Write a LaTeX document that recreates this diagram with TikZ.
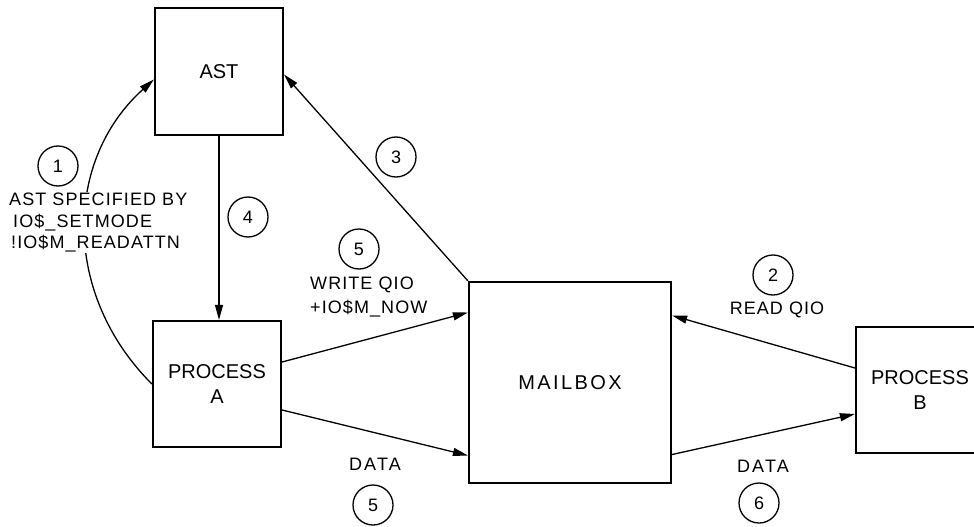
\documentclass[tikz,border=0pt]{standalone}
\usepackage{fontspec}
\setmainfont{Liberation Sans}
\usetikzlibrary{arrows.meta}
\begin{document}
\begin{tikzpicture}[x=1pt,y=-1pt,
  box/.style={draw,line width=2.2pt,minimum width=128pt,minimum height=127pt,inner sep=0pt,align=center,font=\fontsize{20}{25}\selectfont},
  num/.style={draw,circle,line width=1.3pt,minimum size=40pt,inner sep=0pt,font=\fontsize{18}{20}\selectfont},
  lbl/.style={inner sep=1pt,align=left,font=\fontsize{18}{21.5}\selectfont\addfontfeature{LetterSpace=6}},
  conn/.style={line width=1.3pt,-{Triangle[length=15pt,width=8pt]}}]
\useasboundingbox (0,0) rectangle (974,527);
\clip (0,0) rectangle (974,527);
% boxes
\node[box] (ast) at (219,71.5) {AST};
\node[box,minimum height=126pt] (pa) at (217,384) {PROCESS\\A};
\node[box,minimum width=202pt,minimum height=201pt,font=\fontsize{20}{25}\selectfont\addfontfeature{LetterSpace=12}] (mb) at (570,382.5) {MAILBOX};
\node[box,minimum height=126pt] (pb) at (920,390) {PROCESS\\B};
% connectors
\draw[conn] (pa.west) .. controls +(-90,-90) and +(-90,81) .. ([yshift=-8pt]ast.west);
\draw[conn] (ast.south) -- (ast.south |- pa.north);
\draw[conn] (mb.north west) -- ([yshift=-3pt]ast.east);
\draw[conn] ([yshift=22pt]pa.east) -- ([yshift=70pt]mb.west);
\draw[conn] ([yshift=-26pt]pa.east) -- ([yshift=-73pt]mb.west);
\draw[conn] ([yshift=22pt]pb.west) -- ([yshift=67pt]mb.east);
\draw[conn] ([yshift=-72pt]mb.east) -- ([yshift=-24pt]pb.west);
% labels
\node[lbl,fill=white,anchor=north west] (l1) at (8,192) {AST SPECIFIED BY\\\hspace*{4pt}IO\$\_SETMODE\\\hspace*{2pt}!IO\$M\_READATTN};
\node[lbl,anchor=north west,font=\fontsize{18}{24}\selectfont\addfontfeature{LetterSpace=6}] (l5) at (309,276) {WRITE QIO\\+IO\$M\_NOW};
\node[lbl,font=\fontsize{18}{21.5}\selectfont\addfontfeature{LetterSpace=12}] (d1) at (375,464) {DATA};
\node[lbl,font=\fontsize{18}{21.5}\selectfont\addfontfeature{LetterSpace=12}] (d2) at (763,466) {DATA};
\node[lbl] (rq) at (777,310) {READ QIO};
% step numbers
\node[num] (c1) at (58,166) {1};
\node[num] (c4) at (248,217) {4};
\node[num] (c3) at (396,157) {3};
\node[num] (c5a) at (359,249) {5};
\node[num] (c5b) at (373,505) {5};
\node[num] (c2) at (773,275) {2};
\node[num] (c6) at (759,503) {6};
\end{tikzpicture}
\end{document}
